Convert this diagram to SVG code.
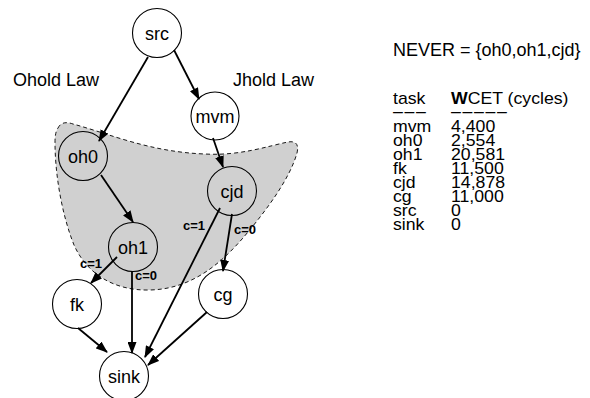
<svg xmlns="http://www.w3.org/2000/svg" width="590" height="398" viewBox="0 0 590 398">
  <style>
    .node { fill: none; stroke: #000; stroke-width: 1.1; }
    .lbl { font-family: "Liberation Sans", Arial, sans-serif; font-size: 18px; fill: #000; text-anchor: middle; }
    .txt { font-family: "Liberation Sans", Arial, sans-serif; font-size: 18px; fill: #000; }
    .row { font-family: "Liberation Sans", Arial, sans-serif; font-size: 17px; fill: #000; }
    .rule { letter-spacing: 1.6px; }
    .cond { font-family: "Liberation Sans", Arial, sans-serif; font-size: 13px; font-weight: bold; fill: #000; }
    .edge { stroke: #000; stroke-width: 1.8; fill: none; marker-end: url(#arrow); }
  </style>
  <defs>
    <marker id="arrow" markerUnits="userSpaceOnUse" markerWidth="12" markerHeight="9" refX="11" refY="4.5" orient="auto">
      <path d="M0,0 L12,4.5 L0,9 Z" fill="#000"/>
    </marker>
  </defs>
  <rect width="590" height="398" fill="#fff"/>

  <!-- NEVER region -->
  <path id="never-region" d="M58,128 Q62,120 73,124 C110,134 150,152 205,154 C240,156 268,146 288,142 Q300,140 297,153 C290,178 268,208 248,232 C220,266 190,289 150,290 C112,291 86,272 74,245 C62,215 55,175 55,142 Q55,132 58,128 Z" fill="#d0d0d0" stroke="#000" stroke-width="0.9" stroke-dasharray="4,3"/>

  <text class="txt" x="13" y="86">Ohold Law</text>
  <text class="txt" x="233" y="86">Jhold Law</text>

  <g id="connectors">
    <line class="edge" x1="148" y1="57" x2="99" y2="141"/>
    <line class="edge" x1="174" y1="50" x2="199" y2="99"/>
    <line class="edge" x1="213" y1="138" x2="223" y2="167"/>
    <line class="edge" x1="101" y1="175" x2="133" y2="222"/>
    <line class="edge" x1="117" y1="257" x2="91" y2="283"/>
    <line class="edge" x1="132" y1="271" x2="132" y2="353"/>
    <line class="edge" x1="220" y1="208" x2="145" y2="357"/>
    <line class="edge" x1="232" y1="214" x2="223" y2="271"/>
    <line class="edge" x1="78" y1="328" x2="107" y2="352"/>
    <line class="edge" x1="207" y1="312" x2="148" y2="365"/>
    <text class="cond" x="91" y="268" text-anchor="middle">c=1</text>
    <text class="cond" x="135" y="280">c=0</text>
    <text class="cond" x="183" y="230">c=1</text>
    <text class="cond" x="234" y="234">c=0</text>
  </g>

  <g id="src"><circle class="node" cx="157" cy="33" r="24.5"/><text class="lbl" x="157" y="39.5">src</text></g>
  <g id="mvm"><circle class="node" cx="215" cy="116" r="24"/><text class="lbl" x="215" y="122.5">mvm</text></g>
  <g id="oh0"><circle class="node" cx="83" cy="156" r="24.5"/><text class="lbl" x="83" y="162.5">oh0</text></g>
  <g id="cjd"><circle class="node" cx="232" cy="191" r="24.5"/><text class="lbl" x="232" y="197.5">cjd</text></g>
  <g id="oh1"><circle class="node" cx="133" cy="247" r="24.5"/><text class="lbl" x="133" y="253.5">oh1</text></g>
  <g id="fk"><circle class="node" cx="77" cy="304" r="24.5"/><text class="lbl" x="77" y="310.5">fk</text></g>
  <g id="cg"><circle class="node" cx="223" cy="294" r="24.5"/><text class="lbl" x="223" y="300.5">cg</text></g>
  <g id="sink"><circle class="node" cx="124" cy="376" r="24.5"/><text class="lbl" x="124" y="382.5">sink</text></g>

  <!-- WCET table -->
  <text class="txt" x="393" y="56">NEVER = {oh0,oh1,cjd}</text>
  <g id="table" transform="translate(393,0) scale(1.04,1)">
    <text class="row" x="0" y="104">task</text>
    <text class="row" x="55.8" y="104"><tspan font-weight="bold">W</tspan>CET (cycles)</text>
    <text class="row rule" x="0" y="117.5">–––</text>
    <text class="row rule" x="55.8" y="117.5">–––––</text>
    <text class="row" x="0" y="132">mvm</text><text class="row" x="55.8" y="132">4,400</text>
    <text class="row" x="0" y="146">oh0</text><text class="row" x="55.8" y="146">2,554</text>
    <text class="row" x="0" y="160">oh1</text><text class="row" x="55.8" y="160">20,581</text>
    <text class="row" x="0" y="174">fk</text><text class="row" x="55.8" y="174">11,500</text>
    <text class="row" x="0" y="188">cjd</text><text class="row" x="55.8" y="188">14,878</text>
    <text class="row" x="0" y="202">cg</text><text class="row" x="55.8" y="202">11,000</text>
    <text class="row" x="0" y="216">src</text><text class="row" x="55.8" y="216">0</text>
    <text class="row" x="0" y="230">sink</text><text class="row" x="55.8" y="230">0</text>
  </g>
</svg>
